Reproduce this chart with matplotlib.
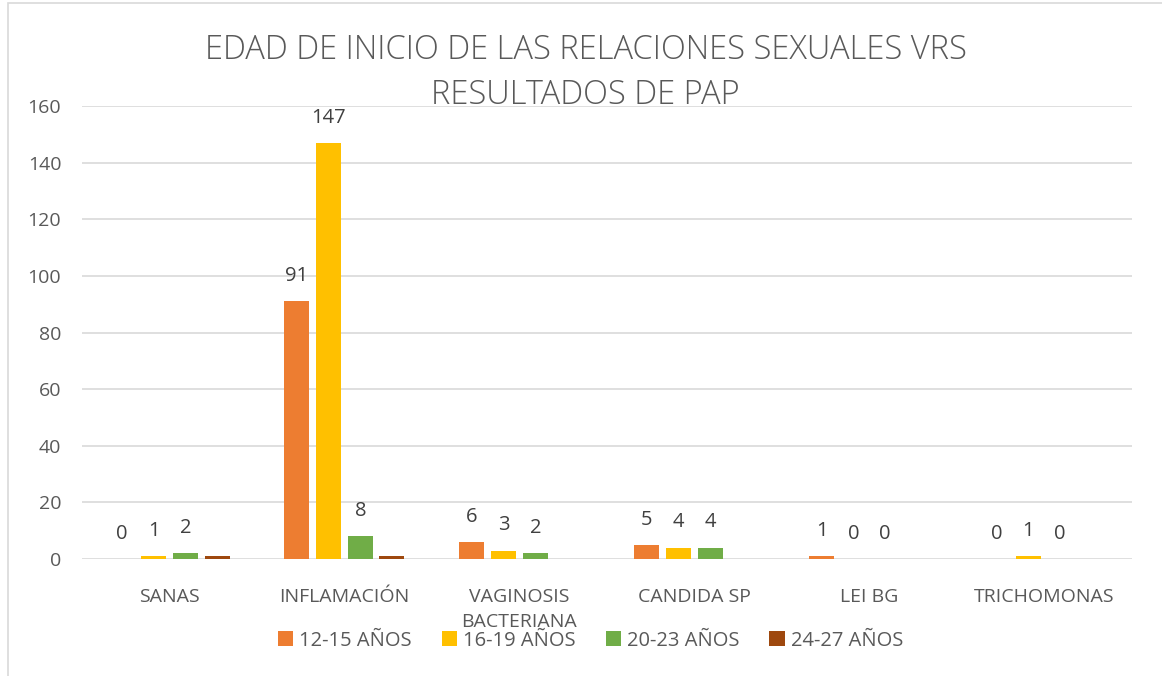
import numpy as np
import matplotlib.pyplot as plt
from matplotlib.patches import Rectangle

# data
categories = ['SANAS', 'INFLAMACIÓN', 'VAGINOSIS\nBACTERIANA', 'CANDIDA SP', 'LEI BG', 'TRICHOMONAS']
series_names = ['12-15 AÑOS', '16-19 AÑOS', '20-23 AÑOS', '24-27 AÑOS']
edad_12_15 = [0, 91, 6, 5, 1, 0]
edad_16_19 = [1, 147, 3, 4, 0, 1]
edad_20_23 = [2, 8, 2, 4, 0, 0]
edad_24_27 = [1, 1, 0, 0, 0, 0]
show_labels = [True, True, True, False]
title_lines = ['EDAD DE INICIO DE LAS RELACIONES SEXUALES VRS', 'RESULTADOS DE PAP']

colors = ['#ED7D31', '#FFC000', '#70AD47', '#9E480E']
text_color = '#595959'

plt.rcParams['font.family'] = ['Open Sans', 'DejaVu Sans']

fig = plt.figure(figsize=(11.62, 6.76), dpi=100)
fig.patches.append(Rectangle((8 / 1162, -0.01), 1.0, 1.0 - 3 / 676 + 0.01, transform=fig.transFigure,
                             fill=False, edgecolor='#d9d9d9', linewidth=1.2))
ax = fig.add_axes([0.0706, 0.173, 0.9034, 0.670])

x = np.arange(len(categories))
all_series = [edad_12_15, edad_16_19, edad_20_23, edad_24_27]
width = 0.143
step = 0.181
for i, vals in enumerate(all_series):
    pos = x + (i - 1.5) * step
    ax.bar(pos, vals, width, color=colors[i], label=series_names[i], zorder=3)
    if show_labels[i]:
        for p, v in zip(pos, vals):
            ax.annotate(str(v), (p, v), xytext=(0, 11), textcoords='offset points',
                        ha='center', va='bottom', fontsize=14.5, color='#404040')

ax.set_ylim(0, 160)
ax.set_xlim(-0.5, len(categories) - 0.5)
ax.set_yticks(range(0, 161, 20))
ax.set_xticks(x)
ax.set_xticklabels(categories, fontsize=14, color=text_color, linespacing=1.5, va='top')
ax.tick_params(axis='y', labelsize=14, labelcolor=text_color, length=0, pad=15)
ax.tick_params(axis='x', length=0, pad=21)
ax.grid(axis='y', color='#d9d9d9', linewidth=1.2, zorder=0)
for s in ax.spines.values():
    s.set_visible(False)

# title drawn as two lines, second one sits over the top gridline like the original
fig.text(0.504, 1 - 50 / 676, title_lines[0], ha='center', va='center',
         fontsize=23.5, color=text_color, fontweight='light')
fig.text(0.504, 1 - 95 / 676, title_lines[1], ha='center', va='center',
         fontsize=23.5, color=text_color, fontweight='light')

fig.legend(loc='center', bbox_to_anchor=(0.508, 0.052), ncol=4, frameon=False,
           fontsize=14.5, handlelength=0.75, handleheight=0.75, handletextpad=0.3,
           columnspacing=1.5, labelcolor=text_color)

plt.savefig('out.png', dpi=100)
